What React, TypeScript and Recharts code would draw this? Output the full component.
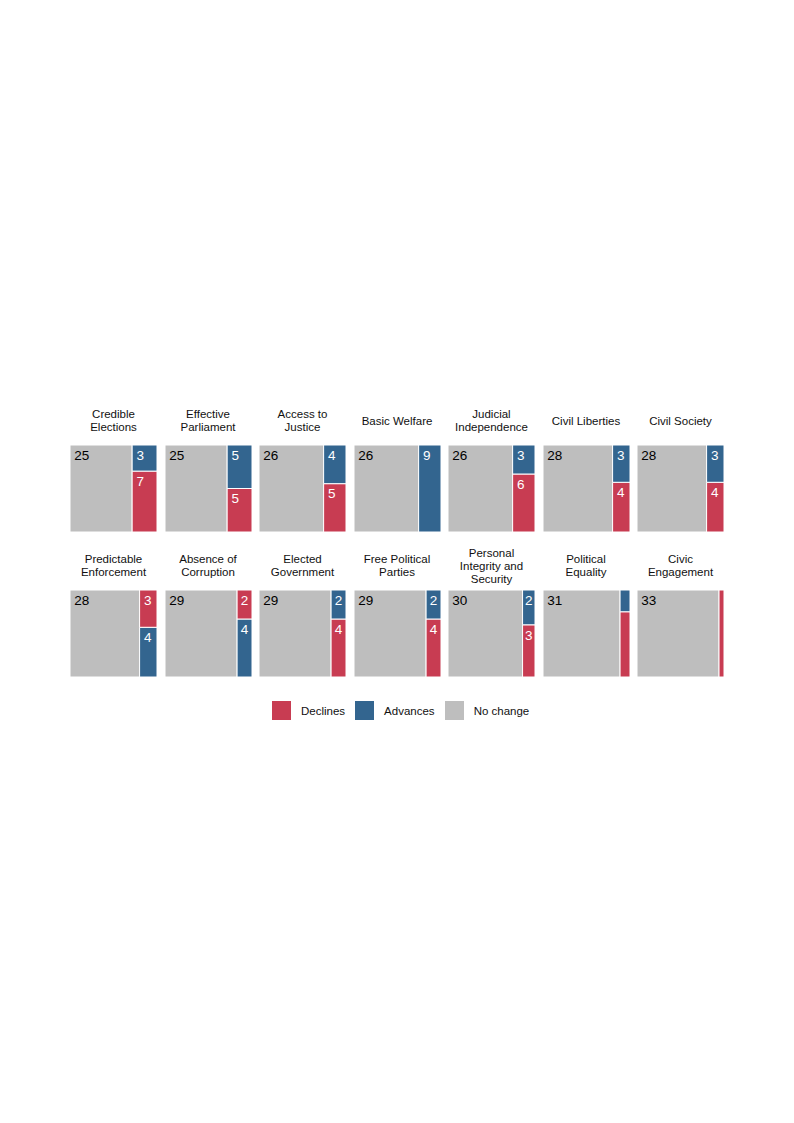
import { ComposedChart, XAxis, YAxis, ReferenceArea } from 'recharts';

const CATEGORIES = [
  'Credible\nElections',
  'Effective\nParliament',
  'Access to\nJustice',
  'Basic Welfare',
  'Judicial\nIndependence',
  'Civil Liberties',
  'Civil Society',
  'Predictable\nEnforcement',
  'Absence of\nCorruption',
  'Elected\nGovernment',
  'Free Political\nParties',
  'Personal\nIntegrity and\nSecurity',
  'Political\nEquality',
  'Civic\nEngagement',
];

const NO_CHANGE = [25, 25, 26, 26, 26, 28, 28, 28, 29, 29, 29, 30, 31, 33];
const ADVANCES = [3, 5, 4, 9, 3, 3, 3, 4, 4, 2, 2, 2, 1, 0];
const DECLINES = [7, 5, 5, 0, 6, 4, 4, 3, 2, 4, 4, 3, 3, 2];

const LEGEND = [
  { label: 'Declines', key: 'declines' },
  { label: 'Advances', key: 'advances' },
  { label: 'No change', key: 'noChange' },
];

const COLORS: Record<string, string> = {
  declines: '#C83C52',
  advances: '#33658F',
  noChange: '#BEBEBE',
};

const FONT = '"Liberation Sans", Arial, Helvetica, sans-serif';
const PANEL = 87;
const PER_ROW = 7;
const LEFT = 70;
const PITCH = 94.5;
const ROW_TOPS = [445, 590];
const NUM_SIZE = 13.5;
// smallest column that still gets its numbers written in
const MIN_LABELLED = 5;

// number in the top-left corner of a cell, pulled in when the cell is narrow
function cellLabel(value: number, fill: string) {
  return (props: any) => {
    const vb = props.viewBox || {};
    const textW = String(value).length * NUM_SIZE * 0.556;
    const dx = Math.max(1, Math.min(4.3, (vb.width - textW) / 2));
    return (
      <text
        x={vb.x + dx}
        y={vb.y + 5 + NUM_SIZE * 0.72}
        fill={fill}
        fontSize={NUM_SIZE}
        fontFamily={FONT}
      >
        {value}
      </text>
    );
  };
}

function Panel({ index }: { index: number }) {
  const noChange = NO_CHANGE[index];
  const adv = ADVANCES[index];
  const dec = DECLINES[index];
  const col = adv + dec;
  const total = noChange + col;

  // bigger segment sits at the bottom of the column, ties put declines at the bottom
  const order =
    dec >= adv
      ? [{ key: 'declines', value: dec }, { key: 'advances', value: adv }]
      : [{ key: 'advances', value: adv }, { key: 'declines', value: dec }];

  let base = 0;
  const segments = order
    .filter((s) => s.value > 0)
    .map((s) => {
      const seg = { ...s, y1: base, y2: base + s.value };
      base += s.value;
      return seg;
    });

  return (
    <ComposedChart
      width={PANEL}
      height={PANEL}
      margin={{ top: 0, right: 0, bottom: 0, left: 0 }}
      data={[{ x: 0, y: 0 }, { x: total, y: col }]}
    >
      <XAxis type="number" dataKey="x" domain={[0, total]} hide allowDataOverflow />
      <YAxis type="number" dataKey="y" domain={[0, col]} hide allowDataOverflow />
      <ReferenceArea
        x1={0}
        x2={noChange}
        y1={0}
        y2={col}
        fill={COLORS.noChange}
        fillOpacity={1}
        stroke="#ffffff"
        strokeWidth={1}
        ifOverflow="visible"
        label={cellLabel(noChange, '#000000')}
      />
      {segments.map((s) => (
        <ReferenceArea
          key={s.key}
          x1={noChange}
          x2={total}
          y1={s.y1}
          y2={s.y2}
          fill={COLORS[s.key]}
          fillOpacity={1}
          stroke="#ffffff"
          strokeWidth={1}
          ifOverflow="visible"
          label={col >= MIN_LABELLED ? cellLabel(s.value, '#ffffff') : undefined}
        />
      ))}
    </ComposedChart>
  );
}

export default function App() {
  return (
    <div style={{ position: 'absolute', left: 0, top: 0, width: 794, height: 1123, background: '#fff', fontFamily: FONT }}>
      {CATEGORIES.map((name, i) => {
        const x = LEFT + (i % PER_ROW) * PITCH;
        const y = ROW_TOPS[Math.floor(i / PER_ROW)];
        return (
          <div key={name}>
            <div
              style={{
                position: 'absolute',
                left: x - 15,
                width: PANEL + 30,
                top: y - 44,
                height: 40,
                display: 'flex',
                alignItems: 'center',
                justifyContent: 'center',
                textAlign: 'center',
                whiteSpace: 'pre',
                fontSize: 11.5,
                lineHeight: '13px',
                color: '#111',
              }}
            >
              {name}
            </div>
            <div style={{ position: 'absolute', left: x, top: y }}>
              <Panel index={i} />
            </div>
          </div>
        );
      })}
      <div
        style={{
          position: 'absolute',
          left: 272,
          top: 701,
          display: 'flex',
          alignItems: 'center',
          fontSize: 11.5,
          color: '#111',
        }}
      >
        {LEGEND.map((item) => (
          <div key={item.key} style={{ display: 'flex', alignItems: 'center', marginRight: 10 }}>
            <div style={{ width: 19, height: 19, background: COLORS[item.key], marginRight: 10 }} />
            <span>{item.label}</span>
          </div>
        ))}
      </div>
    </div>
  );
}
